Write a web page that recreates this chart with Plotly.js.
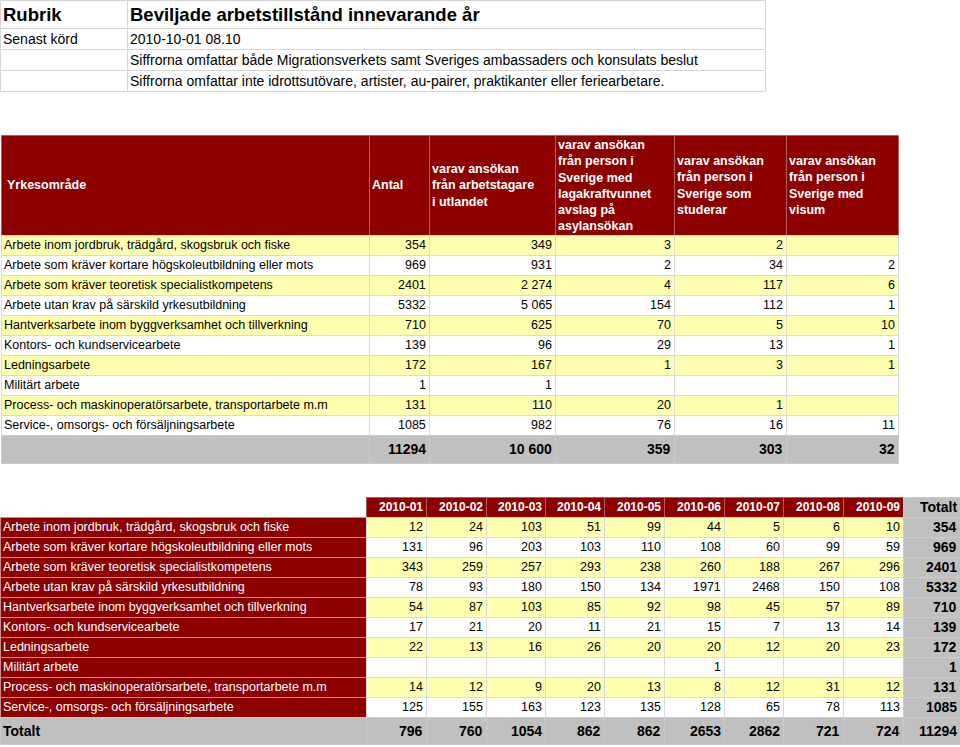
<!DOCTYPE html>
<html><head><meta charset="utf-8">
<script src="https://cdn.plot.ly/plotly-3.0.1.min.js"></script>
<style>html,body{margin:0;padding:0;background:#fff}</style>
</head><body><div id="chart" style="width:960px;height:747px"></div>
<script>
// ---------- data ----------
const infoLabels = ["Rubrik", "Senast körd", "", ""];
const infoValues = ["Beviljade arbetstillstånd innevarande år", "2010-10-01 08.10",
  "Siffrorna omfattar både Migrationsverkets samt Sveriges ambassaders och konsulats beslut",
  "Siffrorna omfattar inte idrottsutövare, artister, au-pairer, praktikanter eller feriearbetare."];

const categories = [
  "Arbete inom jordbruk, trädgård, skogsbruk och fiske",
  "Arbete som kräver kortare högskoleutbildning eller mots",
  "Arbete som kräver teoretisk specialistkompetens",
  "Arbete utan krav på särskild yrkesutbildning",
  "Hantverksarbete inom byggverksamhet och tillverkning",
  "Kontors- och kundservicearbete",
  "Ledningsarbete",
  "Militärt arbete",
  "Process- och maskinoperatörsarbete, transportarbete m.m",
  "Service-, omsorgs- och försäljningsarbete"
];
const summaryHeaders = ["Yrkesområde", "Antal",
  "varav ansökan<br>från arbetstagare<br>i utlandet",
  "varav ansökan<br>från person i<br>Sverige med<br>lagakraftvunnet<br>avslag på<br>asylansökan",
  "varav ansökan<br>från person i<br>Sverige som<br>studerar",
  "varav ansökan<br>från person i<br>Sverige med<br>visum"];
const antal    = [354, 969, 2401, 5332, 710, 139, 172, 1, 131, 1085];
const utlandet = ["349", "931", "2 274", "5 065", "625", "96", "167", "1", "110", "982"];
const asyl     = [3, 2, 4, 154, 70, 29, 1, null, 20, 76];
const studerar = [2, 34, 117, 112, 5, 13, 3, null, 1, 16];
const visum    = [null, 2, 6, 1, 10, 1, 1, null, null, 11];
const summaryTotals = ["", "11294", "10 600", "359", "303", "32"];

const months = ["2010-01", "2010-02", "2010-03", "2010-04", "2010-05", "2010-06", "2010-07", "2010-08", "2010-09"];
const m01 = [12, 131, 343, 78, 54, 17, 22, null, 14, 125];
const m02 = [24, 96, 259, 93, 87, 21, 13, null, 12, 155];
const m03 = [103, 203, 257, 180, 103, 20, 16, null, 9, 163];
const m04 = [51, 103, 293, 150, 85, 11, 26, null, 20, 123];
const m05 = [99, 110, 238, 134, 92, 21, 20, null, 13, 135];
const m06 = [44, 108, 260, 1971, 98, 15, 20, 1, 8, 128];
const m07 = [5, 60, 188, 2468, 45, 7, 12, null, 12, 65];
const m08 = [6, 99, 267, 150, 57, 13, 20, null, 31, 78];
const m09 = [10, 59, 296, 108, 89, 14, 23, null, 12, 113];
const monthTotals = [796, 760, 1054, 862, 862, 2653, 2862, 721, 724];
const rowTotals = [354, 969, 2401, 5332, 710, 139, 172, 1, 131, 1085];
const grandTotal = 11294;

// ---------- styles / layout constants ----------
const FONT = "Liberation Sans, Arial, sans-serif";
const RED = "#8C0000", YEL = "#FFFFB0", GRAY = "#C0C0C0", GRID = "#DADADA";
const W = 960, H = 747;
const str = v => (v === null || v === undefined) ? "" : String(v);
const edges = (start, sizes) => sizes.reduce((a, s) => (a.push(a[a.length - 1] + s), a), [start]);

const shapes = [], annotations = [];
function cell(x0, x1, y0, y1, fill, line) {
  shapes.push({type: "rect", xref: "x", yref: "y",
    x0: x0 + 0.5, x1: x1 + 0.5, y0: y0 + 0.5, y1: y1 + 0.5,
    fillcolor: fill, line: {color: line, width: 1}, layer: "below"});
}
function txt(x0, x1, y0, y1, t, o) {
  if (t === "") return;
  const align = o.align || "left";
  const pad = o.pad === undefined ? 1 : o.pad;
  const x = align === "left" ? x0 + pad : align === "right" ? x1 - pad : (x0 + x1) / 2;
  annotations.push({xref: "x", yref: "y", x, y: (y0 + y1) / 2 + (o.dy || 0),
    xanchor: align, yanchor: "middle", showarrow: false, align,
    text: o.bold ? "<b>" + t + "</b>" : t,
    font: {family: FONT, size: o.size, color: o.color || "black"}});
}

// ---------- info table ----------
{
  const xs = edges(0, [127, 638]);
  const ys = edges(0, [28, 21, 21, 21]);
  infoLabels.forEach((lab, r) => {
    const big = r === 0;
    cell(xs[0], xs[1], ys[r], ys[r + 1], "white", "#D4D4D4");
    cell(xs[1], xs[2], ys[r], ys[r + 1], "white", "#D4D4D4");
    txt(xs[0], xs[1], ys[r], ys[r + 1], lab, {size: big ? 18.5 : 14, bold: big});
    txt(xs[1], xs[2], ys[r], ys[r + 1], infoValues[r], {size: big ? 18.5 : 14, bold: big});
  });
}

// ---------- summary table ----------
{
  const xs = edges(1, [368, 60, 126, 119, 112, 112]);
  const ys = edges(235, categories.map(() => 20));
  const hy0 = 135, hy1 = 235;
  summaryHeaders.forEach((h, c) => {
    cell(xs[c], xs[c + 1], hy0, hy1, RED, "#B85A5A");
    txt(xs[c], xs[c + 1], hy0, hy1, h, {size: 12.5, bold: true, color: "white", pad: c === 0 ? 4 : 1});
  });
  const cols = [categories, antal.map(str), utlandet, asyl.map(str), studerar.map(str), visum.map(str)];
  categories.forEach((_, r) => {
    const fill = r % 2 === 0 ? YEL : "white";
    cols.forEach((col, c) => {
      cell(xs[c], xs[c + 1], ys[r], ys[r + 1], fill, GRID);
      txt(xs[c], xs[c + 1], ys[r], ys[r + 1], col[r], {size: 12.5, align: c === 0 ? "left" : "right"});
    });
  });
  const ty0 = ys[ys.length - 1], ty1 = ty0 + 28;
  summaryTotals.forEach((t, c) => {
    cell(xs[c], xs[c + 1], ty0, ty1, GRAY, "#CBCBCB");
    txt(xs[c], xs[c + 1], ty0, ty1, t, {size: 14, bold: true, align: "right"});
  });
}

// ---------- monthly table ----------
{
  const xs = edges(0, [366, 60, 60, 59, 59, 60, 60, 59, 60, 60, 57]);
  const hy0 = 497, hy1 = 517;
  const ys = edges(hy1, categories.map(() => 20));
  months.forEach((m, i) => {
    const c = i + 1;
    cell(xs[c], xs[c + 1], hy0, hy1, RED, "#B85A5A");
    txt(xs[c], xs[c + 1], hy0, hy1, m, {size: 12, bold: true, color: "white", align: "right"});
  });
  const tc = months.length + 1;
  cell(xs[tc], xs[tc + 1], hy0, hy1, GRAY, "#CBCBCB");
  txt(xs[tc], xs[tc + 1], hy0, hy1, "Totalt", {size: 14, bold: true, align: "right"});

  const series = [m01, m02, m03, m04, m05, m06, m07, m08, m09];
  categories.forEach((cat, r) => {
    const fill = r % 2 === 0 ? YEL : "white";
    cell(xs[0], xs[1], ys[r], ys[r + 1], RED, "#C98A8A");
    txt(xs[0], xs[1], ys[r], ys[r + 1], cat, {size: 12.5, color: "white"});
    series.forEach((s, i) => {
      const c = i + 1;
      cell(xs[c], xs[c + 1], ys[r], ys[r + 1], fill, GRID);
      txt(xs[c], xs[c + 1], ys[r], ys[r + 1], str(s[r]), {size: 12.5, align: "right"});
    });
    cell(xs[tc], xs[tc + 1], ys[r], ys[r + 1], GRAY, "#CBCBCB");
    txt(xs[tc], xs[tc + 1], ys[r], ys[r + 1], str(rowTotals[r]), {size: 14, bold: true, align: "right"});
  });
  const ty0 = ys[ys.length - 1], ty1 = ty0 + 27;
  const totRow = ["Totalt"].concat(monthTotals.map(str), [str(grandTotal)]);
  totRow.forEach((t, c) => {
    cell(xs[c], xs[c + 1], ty0, ty1, GRAY, "#CBCBCB");
    txt(xs[c], xs[c + 1], ty0, ty1, t, {size: 14, bold: true, align: c === 0 ? "left" : "right"});
  });
}

Plotly.newPlot("chart", [], {
  width: W, height: H, margin: {l: 0, r: 0, t: 0, b: 0},
  paper_bgcolor: "white", plot_bgcolor: "white", showlegend: false,
  xaxis: {range: [0, W], visible: false, fixedrange: true},
  yaxis: {range: [H, 0], visible: false, fixedrange: true},
  shapes, annotations
}, {staticPlot: true, displayModeBar: false});
</script></body></html>
